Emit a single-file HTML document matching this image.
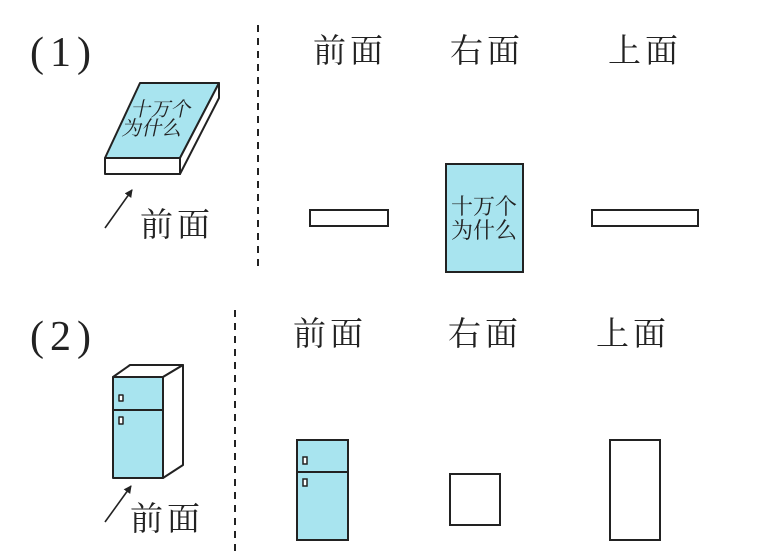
<!DOCTYPE html>
<html><head><meta charset="utf-8"><style>
html,body{margin:0;padding:0;background:#fff;width:780px;height:553px;overflow:hidden}
svg text{font-family:"Liberation Serif","Noto Serif CJK SC",serif;fill:#222}
.h{font-size:33px;letter-spacing:4px}
</style></head><body>
<svg width="780" height="553" viewBox="0 0 780 553" xmlns="http://www.w3.org/2000/svg">
<defs><marker id="ah" markerWidth="8" markerHeight="8" refX="7" refY="4" orient="auto" markerUnits="userSpaceOnUse"><path d="M0,0 L8,4 L0,8 z" fill="#222"/></marker></defs>
<g stroke="#222" stroke-width="2" fill="none">
<line x1="258" y1="25" x2="258" y2="272" stroke-dasharray="7,6"/>
<line x1="235" y1="310" x2="235" y2="553" stroke-dasharray="7,6"/>
</g>
<text x="30" y="66" font-size="42" letter-spacing="6">(1)</text>
<text x="30" y="350" font-size="42" letter-spacing="6">(2)</text>
<!-- book -->
<g stroke="#222" stroke-width="2" stroke-linejoin="round">
<polygon points="140,83 219,83 180,158 105,158" fill="#a8e4ef"/>
<polygon points="105,158 180,158 180,174 105,174" fill="#fff"/>
<polygon points="180,158 219,83 219,98 180,174" fill="#fff"/>
</g>
<g transform="translate(0,0) skewX(-12)">
<text x="155" y="116" font-size="20">十万个</text>
<text x="150" y="135" font-size="20">为什么</text>
</g>
<line x1="105" y1="228" x2="132" y2="190" stroke="#222" stroke-width="1.6" marker-end="url(#ah)"/>
<text x="140" y="236" class="h">前面</text>
<!-- row1 headings -->
<text x="313" y="62" class="h">前面</text>
<text x="450" y="62" class="h">右面</text>
<text x="608" y="62" class="h">上面</text>
<g stroke="#222" stroke-width="2" fill="#fff">
<rect x="310" y="210" width="78" height="16"/>
<rect x="446" y="164" width="77" height="108" fill="#a8e4ef"/>
<rect x="592" y="210" width="106" height="16"/>
</g>
<text x="451" y="214" font-size="22">十万个</text>
<text x="451" y="238" font-size="22">为什么</text>
<!-- fridge -->
<g stroke="#222" stroke-width="2" stroke-linejoin="round">
<polygon points="113,377 130,365 183,365 163,377" fill="#fff"/>
<polygon points="163,377 183,365 183,465 163,478" fill="#fff"/>
<rect x="113" y="377" width="50" height="101" fill="#a8e4ef"/>
<line x1="113" y1="410" x2="163" y2="410"/>
<rect x="119" y="395" width="4" height="6" fill="#fff" stroke-width="1.5"/>
<rect x="119" y="417" width="4" height="7" fill="#fff" stroke-width="1.5"/>
</g>
<line x1="105" y1="522" x2="131" y2="486" stroke="#222" stroke-width="1.6" marker-end="url(#ah)"/>
<text x="130" y="530" class="h">前面</text>
<!-- row2 headings -->
<text x="293" y="345" class="h">前面</text>
<text x="448" y="345" class="h">右面</text>
<text x="596" y="345" class="h">上面</text>
<g stroke="#222" stroke-width="2" fill="#fff">
<rect x="297" y="440" width="51" height="100" fill="#a8e4ef"/>
<line x1="297" y1="472" x2="348" y2="472"/>
<rect x="303" y="457" width="4" height="7" stroke-width="1.5"/>
<rect x="303" y="479" width="4" height="7" stroke-width="1.5"/>
<rect x="450" y="474" width="50" height="51"/>
<rect x="610" y="440" width="50" height="100"/>
</g>
</svg>
</body></html>
